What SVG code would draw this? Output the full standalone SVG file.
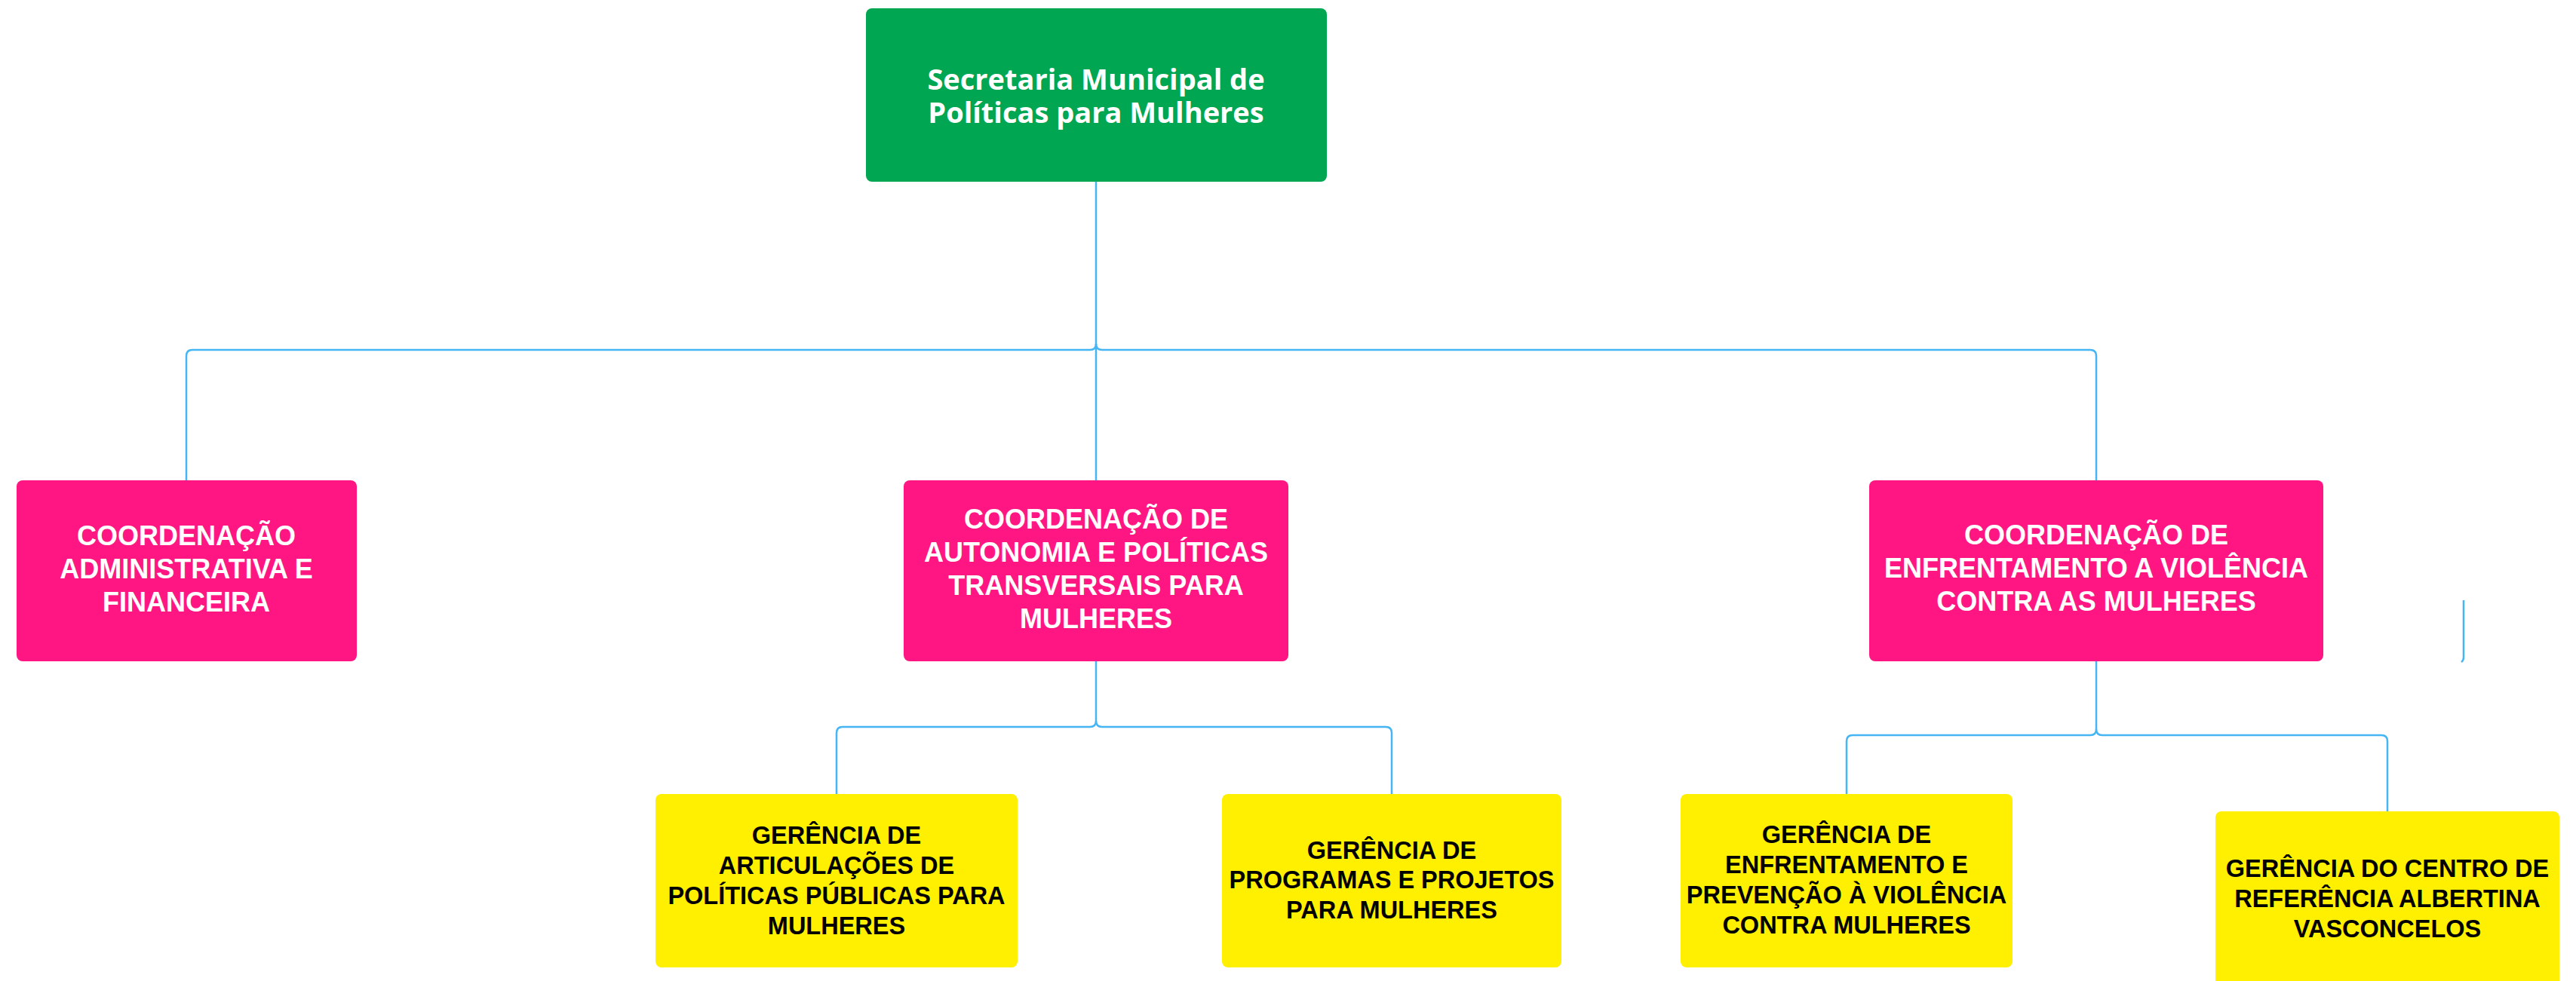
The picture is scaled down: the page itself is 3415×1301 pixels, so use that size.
<svg xmlns="http://www.w3.org/2000/svg" width="3415" height="1301" viewBox="0 0 3415 1301">
<style>
.bg{fill:#ffffff}
.conn{fill:none;stroke:#45B5F4;stroke-width:2.5}
.green{fill:#00A651}
.pink{fill:#FF1683}
.yellow{fill:#FFEF00}
.tg{font-family:"Open Sans",Lato,sans-serif;font-weight:700;font-size:38px;fill:#ffffff;text-anchor:middle}
.tp{font-family:"Liberation Sans",Arial,sans-serif;font-weight:700;font-size:36px;fill:#ffffff;text-anchor:middle}
.ty{font-family:"Liberation Sans",Arial,sans-serif;font-weight:700;font-size:32.5px;fill:#000000;text-anchor:middle}
</style>
<rect class="bg" x="0" y="0" width="3415" height="1301"/>
<g id="connectors">
<path class="conn" d="M1453,241 V637"/>
<path class="conn" d="M247,637 V472 Q247,464 255,464 H1445 Q1453,464 1453,456"/>
<path class="conn" d="M2779,637 V472 Q2779,464 2771,464 H1461 Q1453,464 1453,456"/>
<path class="conn" d="M1453,877 V956"/>
<path class="conn" d="M1109,1053 V972 Q1109,964 1117,964 H1445 Q1453,964 1453,956"/>
<path class="conn" d="M1845,1053 V972 Q1845,964 1837,964 H1461 Q1453,964 1453,956"/>
<path class="conn" d="M2779,877 V967"/>
<path class="conn" d="M2448,1053 V983 Q2448,975 2456,975 H2771 Q2779,975 2779,967"/>
<path class="conn" d="M3165,1076 V983 Q3165,975 3157,975 H2787 Q2779,975 2779,967"/>
<path class="conn" d="M3266,796 V872 Q3266,876 3263,878"/>
</g>
<g id="secretaria">
<rect class="green" x="1148" y="11" width="611" height="230" rx="8"/>
<text class="tg" x="1453" y="119">Secretaria Municipal de</text>
<text class="tg" x="1453" y="163">Políticas para Mulheres</text>
</g>
<g id="coord-admin">
<rect class="pink" x="22" y="637" width="451" height="240" rx="8"/>
<text class="tp" x="247" y="723">COORDENAÇÃO</text>
<text class="tp" x="247" y="767">ADMINISTRATIVA E</text>
<text class="tp" x="247" y="811">FINANCEIRA</text>
</g>
<g id="coord-autonomia">
<rect class="pink" x="1198" y="637" width="510" height="240" rx="8"/>
<text class="tp" x="1453" y="701">COORDENAÇÃO DE</text>
<text class="tp" x="1453" y="745">AUTONOMIA E POLÍTICAS</text>
<text class="tp" x="1453" y="789">TRANSVERSAIS PARA</text>
<text class="tp" x="1453" y="833">MULHERES</text>
</g>
<g id="coord-enfrentamento">
<rect class="pink" x="2478" y="637" width="602" height="240" rx="8"/>
<text class="tp" x="2779" y="722">COORDENAÇÃO DE</text>
<text class="tp" x="2779" y="766">ENFRENTAMENTO A VIOLÊNCIA</text>
<text class="tp" x="2779" y="810">CONTRA AS MULHERES</text>
</g>
<g id="ger-articulacoes">
<rect class="yellow" x="869" y="1053" width="480" height="230" rx="8"/>
<text class="ty" x="1109" y="1119">GERÊNCIA DE</text>
<text class="ty" x="1109" y="1159">ARTICULAÇÕES DE</text>
<text class="ty" x="1109" y="1199">POLÍTICAS PÚBLICAS PARA</text>
<text class="ty" x="1109" y="1239">MULHERES</text>
</g>
<g id="ger-programas">
<rect class="yellow" x="1620" y="1053" width="450" height="230" rx="8"/>
<text class="ty" x="1845" y="1139">GERÊNCIA DE</text>
<text class="ty" x="1845" y="1178">PROGRAMAS E PROJETOS</text>
<text class="ty" x="1845" y="1218">PARA MULHERES</text>
</g>
<g id="ger-enfrentamento">
<rect class="yellow" x="2228" y="1053" width="440" height="230" rx="8"/>
<text class="ty" x="2448" y="1118">GERÊNCIA DE</text>
<text class="ty" x="2448" y="1158">ENFRENTAMENTO E</text>
<text class="ty" x="2448" y="1198">PREVENÇÃO À VIOLÊNCIA</text>
<text class="ty" x="2448" y="1238">CONTRA MULHERES</text>
</g>
<g id="ger-centro">
<rect class="yellow" x="2937" y="1076" width="456" height="240" rx="8"/>
<text class="ty" x="3165" y="1163">GERÊNCIA DO CENTRO DE</text>
<text class="ty" x="3165" y="1203">REFERÊNCIA ALBERTINA</text>
<text class="ty" x="3165" y="1243">VASCONCELOS</text>
</g>
</svg>
